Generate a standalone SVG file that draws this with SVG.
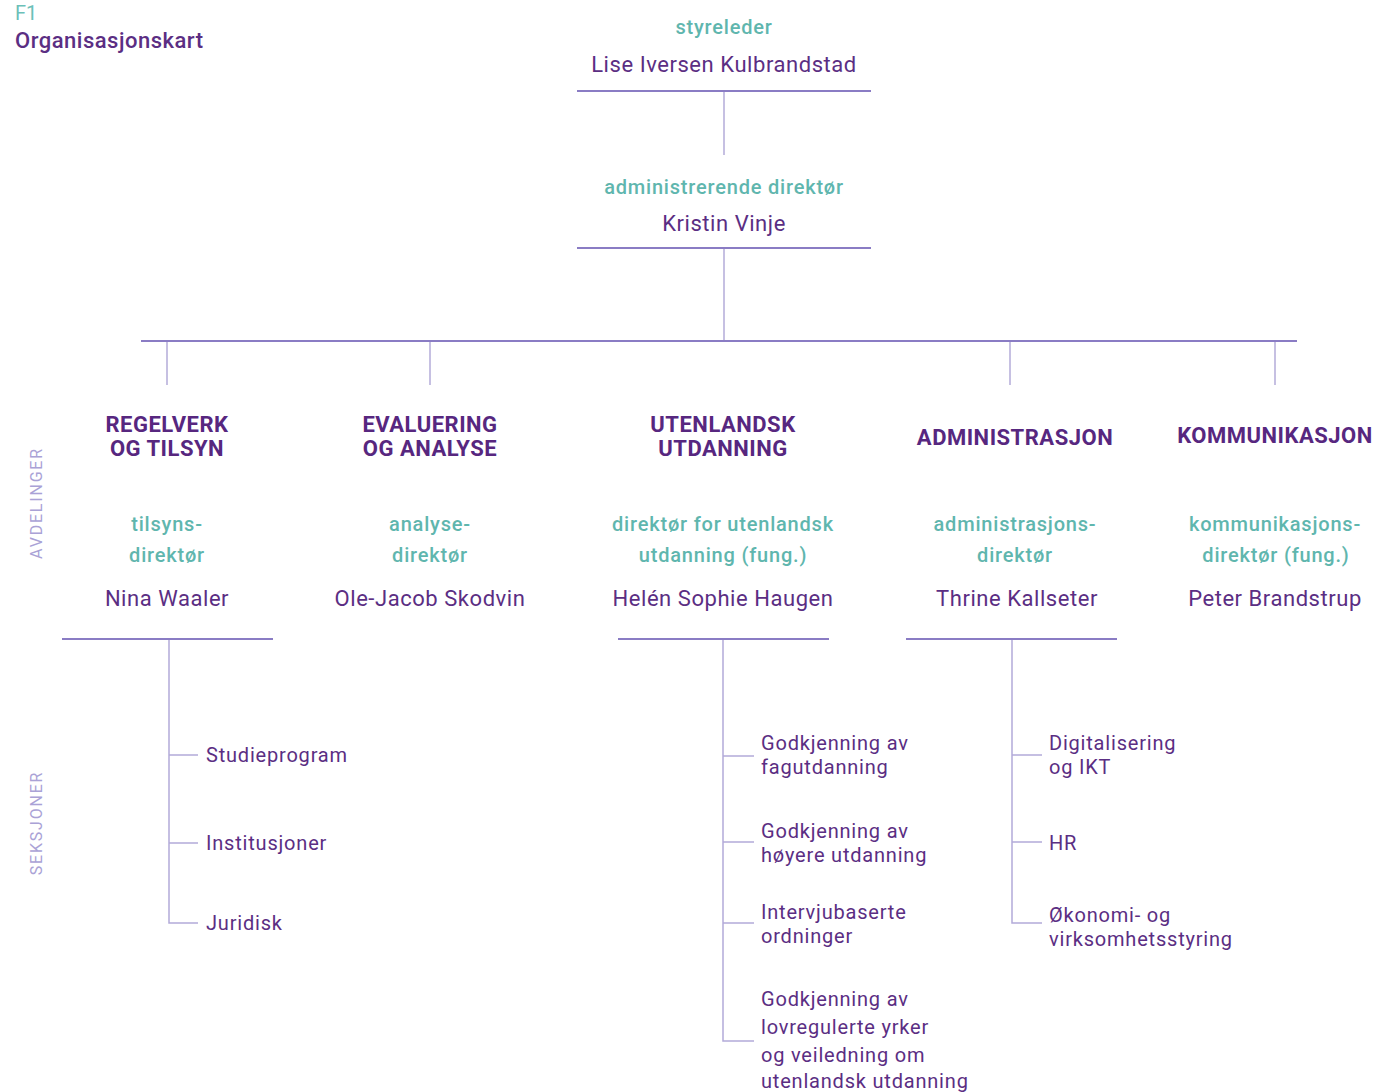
<svg xmlns="http://www.w3.org/2000/svg" width="1376" height="1092" viewBox="0 0 1376 1092">
<style>
text{font-family:Roboto,"Liberation Sans",sans-serif}
.name{fill:#5b2e83;font-size:22px;text-anchor:middle;letter-spacing:0.55px}
.role{fill:#5fb6ae;font-size:20px;text-anchor:middle;letter-spacing:0.8px;font-weight:500}
.dept{fill:#57277f;font-size:22px;font-weight:700;text-anchor:middle;letter-spacing:0.5px}
.sec{fill:#5b2e83;font-size:20px;letter-spacing:0.8px}
.side{fill:#aaa2d6;font-size:16px;letter-spacing:1.8px;text-anchor:middle}
.ul{stroke:#8a7cc4;stroke-width:2;fill:none}
.cn{stroke:#b3abd9;stroke-width:1.5;fill:none}
</style>
<rect width="1376" height="1092" fill="#ffffff"/>
<g id="title">
<text x="15" y="20" fill="#6cc0b8" font-size="20">F1</text>
<text x="15" y="48" fill="#5b2e83" font-size="22" font-weight="500" letter-spacing="0.5">Organisasjonskart</text>
</g>
<g id="side-labels">
<text class="side" transform="translate(42,503) rotate(-90)">AVDELINGER</text>
<text class="side" transform="translate(42,823) rotate(-90)">SEKSJONER</text>
</g>
<g id="connectors">
<line class="cn" x1="724" y1="92" x2="724" y2="155"/>
<line class="cn" x1="724" y1="249" x2="724" y2="341"/>
<line class="ul" x1="141" y1="341" x2="1297" y2="341"/>
<line class="cn" x1="167" y1="342" x2="167" y2="385"/>
<line class="cn" x1="430" y1="342" x2="430" y2="385"/>
<line class="cn" x1="1010" y1="342" x2="1010" y2="385"/>
<line class="cn" x1="1275" y1="342" x2="1275" y2="385"/>
<path class="cn" d="M169 640V923H198M169 755H198M169 843H198"/>
<path class="cn" d="M723 640V1041H754M723 756H754M723 842H754M723 923H754"/>
<path class="cn" d="M1012 640V923H1042M1012 755H1042M1012 842H1042"/>
</g>
<g id="styreleder">
<text class="role" x="724" y="34">styreleder</text>
<text class="name" x="724" y="72">Lise Iversen Kulbrandstad</text>
<line class="ul" x1="577" y1="91" x2="871" y2="91"/>
</g>
<g id="adm-dir">
<text class="role" x="724" y="194">administrerende direktør</text>
<text class="name" x="724" y="231">Kristin Vinje</text>
<line class="ul" x1="577" y1="248" x2="871" y2="248"/>
</g>
<g id="regelverk">
<text class="dept" x="167" y="432">REGELVERK</text>
<text class="dept" x="167" y="456">OG TILSYN</text>
<text class="role" x="167" y="531">tilsyns-</text>
<text class="role" x="167" y="562">direktør</text>
<text class="name" x="167" y="606">Nina Waaler</text>
<line class="ul" x1="62" y1="639" x2="273" y2="639"/>
</g>
<g id="evaluering">
<text class="dept" x="430" y="432">EVALUERING</text>
<text class="dept" x="430" y="456">OG ANALYSE</text>
<text class="role" x="430" y="531">analyse-</text>
<text class="role" x="430" y="562">direktør</text>
<text class="name" x="430" y="606">Ole-Jacob Skodvin</text>
</g>
<g id="utenlandsk">
<text class="dept" x="723" y="432">UTENLANDSK</text>
<text class="dept" x="723" y="456">UTDANNING</text>
<text class="role" x="723" y="531">direktør for utenlandsk</text>
<text class="role" x="723" y="562">utdanning (fung.)</text>
<text class="name" x="723" y="606">Helén Sophie Haugen</text>
<line class="ul" x1="618" y1="639" x2="829" y2="639"/>
</g>
<g id="administrasjon">
<text class="dept" x="1015" y="445">ADMINISTRASJON</text>
<text class="role" x="1015" y="531">administrasjons-</text>
<text class="role" x="1015" y="562">direktør</text>
<text class="name" x="1017" y="606">Thrine Kallseter</text>
<line class="ul" x1="906" y1="639" x2="1117" y2="639"/>
</g>
<g id="kommunikasjon">
<text class="dept" x="1275" y="443" letter-spacing="0.2">KOMMUNIKASJON</text>
<text class="role" x="1275" y="531">kommunikasjons-</text>
<text class="role" x="1276" y="562">direktør (fung.)</text>
<text class="name" x="1275" y="606">Peter Brandstrup</text>
</g>
<g id="sec-studieprogram"><text class="sec" x="206" y="762">Studieprogram</text></g>
<g id="sec-institusjoner"><text class="sec" x="206" y="850">Institusjoner</text></g>
<g id="sec-juridisk"><text class="sec" x="206" y="930">Juridisk</text></g>
<g id="sec-fagutdanning"><text class="sec" x="761" y="750">Godkjenning av<tspan x="761" y="774">fagutdanning</tspan></text></g>
<g id="sec-hoyere"><text class="sec" x="761" y="838">Godkjenning av<tspan x="761" y="862">høyere utdanning</tspan></text></g>
<g id="sec-intervju"><text class="sec" x="761" y="919">Intervjubaserte<tspan x="761" y="943">ordninger</tspan></text></g>
<g id="sec-lovregulerte"><text class="sec" x="761" y="1006">Godkjenning av<tspan x="761" y="1034">lovregulerte yrker</tspan><tspan x="761" y="1062">og veiledning om</tspan><tspan x="761" y="1088">utenlandsk utdanning</tspan></text></g>
<g id="sec-digital"><text class="sec" x="1049" y="750">Digitalisering<tspan x="1049" y="774">og IKT</tspan></text></g>
<g id="sec-hr"><text class="sec" x="1049" y="850">HR</text></g>
<g id="sec-okonomi"><text class="sec" x="1049" y="922">Økonomi- og<tspan x="1049" y="946">virksomhetsstyring</tspan></text></g>
</svg>
